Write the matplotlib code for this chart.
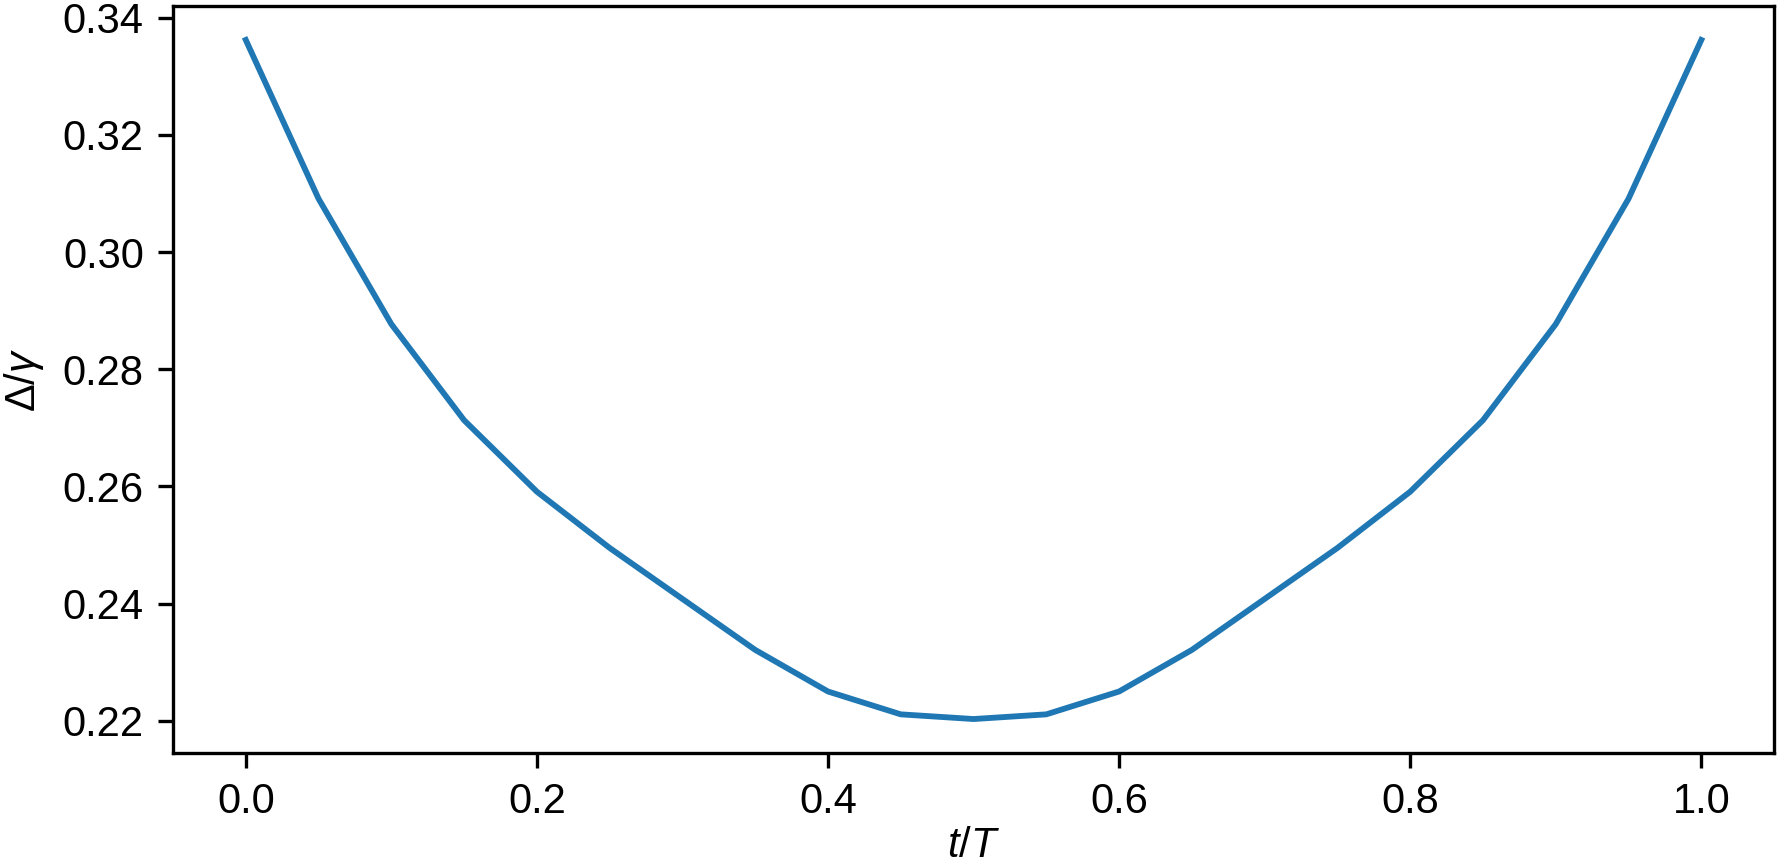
import numpy as np
import matplotlib
matplotlib.use('Agg')
import matplotlib.pyplot as plt

plt.rcParams['font.family'] = ['Liberation Sans', 'DejaVu Sans']
plt.rcParams['mathtext.fontset'] = 'custom'
plt.rcParams['mathtext.rm'] = 'Liberation Sans'
plt.rcParams['mathtext.it'] = 'Liberation Sans:italic'
plt.rcParams['font.size'] = 10


t_over_T = [0.0, 0.05, 0.1, 0.15, 0.2, 0.25, 0.3, 0.35, 0.4, 0.45, 0.5,
            0.55, 0.6, 0.65, 0.7, 0.75, 0.8, 0.85, 0.9, 0.95, 1.0]
delta_over_gamma = [0.3362, 0.3091, 0.2877, 0.2713, 0.2591, 0.2495, 0.2408,
                    0.2321, 0.2250, 0.2211, 0.2203, 0.2211, 0.2250, 0.2321,
                    0.2408, 0.2495, 0.2591, 0.2713, 0.2877, 0.3091, 0.3362]


fig = plt.figure(figsize=(1778 / 300, 868 / 300), dpi=300)
ax = fig.add_axes([0.0973, 0.1325, 0.9005, 0.8606])
ax.plot(t_over_T, delta_over_gamma, color='#1f77b4', lw=1.4)
ax.set_xlabel('$t/T$', labelpad=1)
ax.set_ylabel(r'$\Delta/\gamma$')
ax.set_xticks([0.0, 0.2, 0.4, 0.6, 0.8, 1.0])
ax.set_yticks([0.22, 0.24, 0.26, 0.28, 0.30, 0.32, 0.34])

fig.savefig('out.png', dpi=300)
